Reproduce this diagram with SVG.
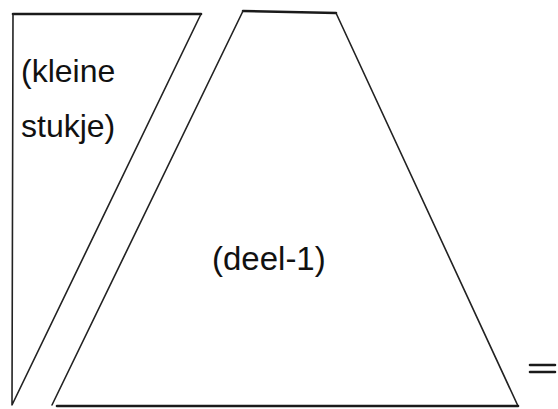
<svg xmlns="http://www.w3.org/2000/svg" width="558" height="409" viewBox="0 0 558 409">
<style>
.ln{fill:none;stroke:#222;stroke-width:1.6;stroke-linecap:round;stroke-linejoin:round}
.th{fill:none;stroke:#1a1a1a;stroke-width:2.6;stroke-linecap:round}
.t{font-family:"Liberation Sans",Arial,sans-serif;font-size:32px;fill:#111}
</style>
<rect width="558" height="409" fill="#fff"/>
<g id="kleine-stukje">
<path class="th" d="M13,14 L201,14"/>
<path class="ln" d="M13,14 L12,405 L201,14"/>
<text class="t" x="21" y="82">(kleine</text>
<text class="t" x="21" y="137">stukje)</text>
</g>
<g id="deel-1">
<path class="th" d="M243,11 L336,13"/>
<path class="ln" d="M243,11 L52,405"/>
<path class="ln" d="M336,13 L518,406"/>
<path class="th" d="M57,406 L518,406"/>
<text class="t" x="212" y="270" style="font-size:33px">(deel-1)</text>
</g>
<g id="equals">
<path class="th" d="M530,365 L555,365 M530,372 L555,372" stroke-width="3"/>
</g>
</svg>
